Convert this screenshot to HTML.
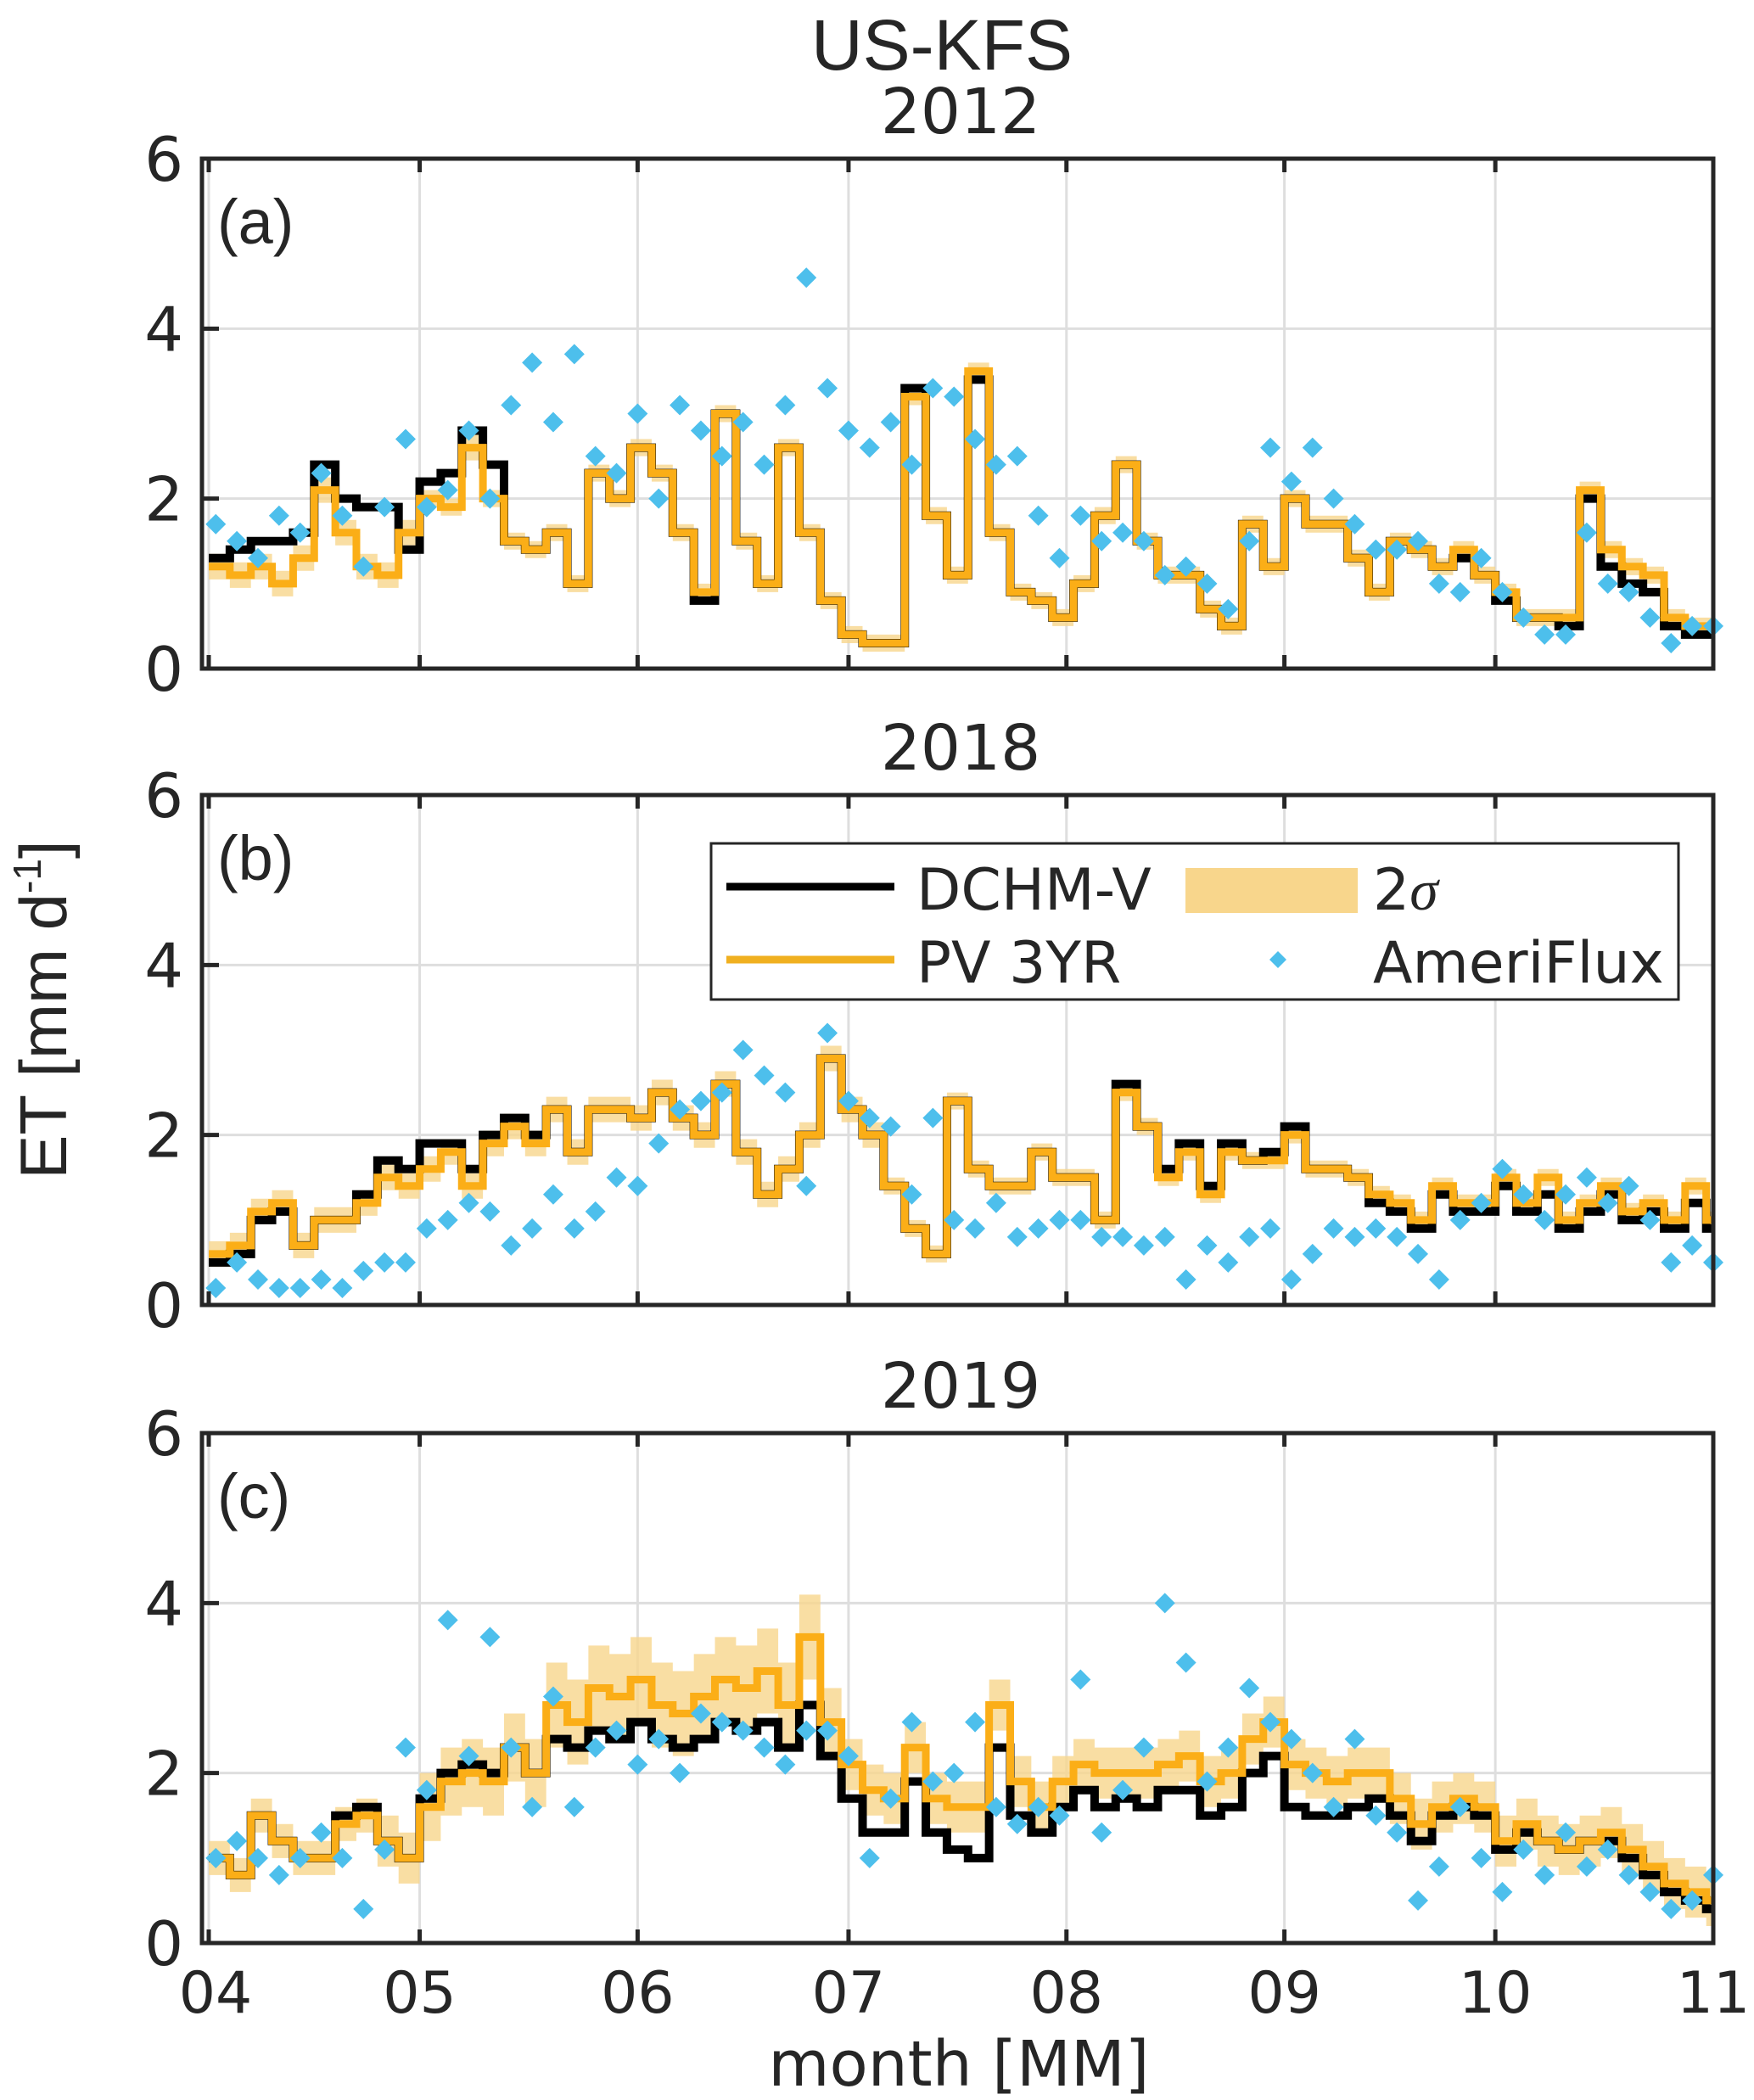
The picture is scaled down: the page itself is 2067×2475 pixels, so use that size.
<!DOCTYPE html>
<html><head><meta charset="utf-8"><style>
html,body{margin:0;padding:0;background:#fff;}
svg{display:block;}
text{font-family:"DejaVu Sans","Liberation Sans",sans-serif;fill:#262626;}
</style></head><body>
<svg id="chart" width="2067" height="2475" viewBox="0 0 2067 2475" xmlns="http://www.w3.org/2000/svg">
<text x="1110" y="82" font-size="84" text-anchor="middle" style="font-family:'Liberation Sans',sans-serif" fill="#000">US-KFS</text>
<text transform="translate(78,1190) rotate(-90)" font-size="78" text-anchor="middle" style="font-family:'Liberation Sans',sans-serif" fill="#000">ET [mm d<tspan font-size="46" dy="-30">-1</tspan><tspan dy="30">]</tspan></text>
<text x="1130" y="2458" font-size="74" text-anchor="middle">month [MM]</text>
<g id="panels"></g>
</svg>
<script>
// ---- data (3-day grid, days since Apr 1) ----
const monthLabels = ["04","05","06","07","08","09","10","11"];
const monthDays = [0,30,61,91,122,153,183,214];
const yTicks = [0,2,4,6];
const panelTitles = ["2012","2018","2019"];
const panelTags = ["(a)","(b)","(c)"];

const pvA = [1.2,1.1,1.2,1.0,1.3,2.1,1.6,1.2,1.1,1.6,2.0,1.9,2.6,2.0,1.5,1.4,1.6,1.0,2.3,2.0,2.6,2.3,1.6,0.9,3.0,1.5,1.0,2.6,1.6,0.8,0.4,0.3,0.3,3.2,1.8,1.1,3.5,1.6,0.9,0.8,0.6,1.0,1.8,2.4,1.5,1.1,1.1,0.7,0.5,1.7,1.2,2.0,1.7,1.7,1.3,0.9,1.5,1.4,1.2,1.4,1.1,0.9,0.6,0.6,0.6,2.1,1.4,1.2,1.1,0.6,0.5,0.5];
const dchmA = [1.3,1.4,1.5,1.5,1.6,2.4,2.0,1.9,1.9,1.4,2.2,2.3,2.8,2.4,1.5,1.4,1.6,1.0,2.3,2.0,2.6,2.3,1.6,0.8,3.0,1.5,1.0,2.6,1.6,0.8,0.4,0.3,0.3,3.3,1.8,1.1,3.4,1.6,0.9,0.8,0.6,1.0,1.8,2.4,1.5,1.1,1.1,0.7,0.5,1.7,1.2,2.0,1.7,1.7,1.3,0.9,1.5,1.4,1.2,1.3,1.1,0.8,0.6,0.6,0.5,2.0,1.2,1.0,0.9,0.5,0.4,0.4];
const sigA = [0.15,0.15,0.15,0.15,0.15,0.15,0.15,0.15,0.15,0.15,0.1,0.1,0.15,0.1,0.1,0.1,0.1,0.1,0.1,0.1,0.1,0.1,0.1,0.1,0.1,0.1,0.1,0.1,0.1,0.1,0.1,0.1,0.1,0.1,0.1,0.1,0.1,0.1,0.1,0.1,0.1,0.1,0.1,0.1,0.1,0.1,0.1,0.1,0.1,0.1,0.1,0.1,0.1,0.1,0.1,0.1,0.1,0.1,0.1,0.1,0.1,0.1,0.1,0.1,0.1,0.1,0.1,0.1,0.1,0.1,0.1,0.1];
const fluxA = [1.7,1.5,1.3,1.8,1.6,2.3,1.8,1.2,1.9,2.7,1.9,2.1,2.8,2.0,3.1,3.6,2.9,3.7,2.5,2.3,3.0,2.0,3.1,2.8,2.5,2.9,2.4,3.1,4.6,3.3,2.8,2.6,2.9,2.4,3.3,3.2,2.7,2.4,2.5,1.8,1.3,1.8,1.5,1.6,1.5,1.1,1.2,1.0,0.7,1.5,2.6,2.2,2.6,2.0,1.7,1.4,1.4,1.5,1.0,0.9,1.3,0.9,0.6,0.4,0.4,1.6,1.0,0.9,0.6,0.3,0.5,0.5];

const pvB = [0.6,0.7,1.1,1.2,0.7,1.0,1.0,1.2,1.5,1.4,1.6,1.8,1.4,1.9,2.1,1.9,2.3,1.8,2.3,2.3,2.2,2.5,2.2,2.0,2.6,1.8,1.3,1.6,2.0,2.9,2.3,2.0,1.4,0.9,0.6,2.4,1.6,1.4,1.4,1.8,1.5,1.5,1.0,2.5,2.1,1.5,1.8,1.3,1.8,1.7,1.7,2.0,1.6,1.6,1.5,1.3,1.2,1.0,1.4,1.2,1.2,1.5,1.2,1.5,1.0,1.2,1.4,1.1,1.2,1.0,1.4,1.0];
const dchmB = [0.5,0.6,1.0,1.1,0.7,1.0,1.0,1.3,1.7,1.6,1.9,1.9,1.6,2.0,2.2,2.0,2.3,1.8,2.3,2.3,2.2,2.5,2.2,2.0,2.6,1.8,1.3,1.6,2.0,2.9,2.3,2.0,1.4,0.9,0.6,2.4,1.6,1.4,1.4,1.8,1.5,1.5,1.0,2.6,2.1,1.6,1.9,1.4,1.9,1.7,1.8,2.1,1.6,1.6,1.5,1.2,1.1,0.9,1.3,1.1,1.1,1.4,1.1,1.3,0.9,1.1,1.3,1.0,1.1,0.9,1.2,0.9];
const sigB = [0.15,0.15,0.15,0.15,0.15,0.15,0.15,0.15,0.15,0.15,0.15,0.15,0.15,0.15,0.15,0.15,0.15,0.15,0.15,0.15,0.15,0.15,0.15,0.15,0.15,0.15,0.15,0.15,0.15,0.15,0.15,0.15,0.1,0.1,0.1,0.1,0.1,0.1,0.1,0.1,0.1,0.1,0.1,0.1,0.1,0.1,0.1,0.1,0.1,0.1,0.1,0.1,0.1,0.1,0.1,0.1,0.1,0.1,0.1,0.1,0.1,0.1,0.1,0.1,0.1,0.1,0.1,0.1,0.1,0.1,0.1,0.1];
const fluxB = [0.2,0.5,0.3,0.2,0.2,0.3,0.2,0.4,0.5,0.5,0.9,1.0,1.2,1.1,0.7,0.9,1.3,0.9,1.1,1.5,1.4,1.9,2.3,2.4,2.5,3.0,2.7,2.5,1.4,3.2,2.4,2.2,2.1,1.3,2.2,1.0,0.9,1.2,0.8,0.9,1.0,1.0,0.8,0.8,0.7,0.8,0.3,0.7,0.5,0.8,0.9,0.3,0.6,0.9,0.8,0.9,0.8,0.6,0.3,1.0,1.2,1.6,1.3,1.0,1.3,1.5,1.2,1.4,1.0,0.5,0.7,0.5];

const pvC = [1.0,0.8,1.5,1.2,1.0,1.0,1.4,1.5,1.2,1.0,1.6,1.9,2.0,1.9,2.3,2.0,2.8,2.6,3.0,2.9,3.1,2.8,2.7,2.9,3.1,3.0,3.2,2.8,3.6,2.6,2.1,1.8,1.7,2.3,1.7,1.6,1.6,2.8,1.9,1.6,1.9,2.1,2.0,2.0,2.0,2.1,2.2,1.9,2.0,2.4,2.6,2.1,2.0,1.9,2.0,2.0,1.7,1.4,1.6,1.7,1.6,1.2,1.4,1.2,1.1,1.2,1.3,1.1,0.9,0.7,0.6,0.5];
const dchmC = [1.0,0.8,1.5,1.2,1.0,1.0,1.5,1.6,1.2,1.0,1.7,2.0,2.1,2.0,2.3,2.0,2.4,2.3,2.5,2.4,2.6,2.4,2.3,2.4,2.6,2.5,2.6,2.3,2.8,2.2,1.7,1.3,1.3,1.9,1.3,1.1,1.0,2.3,1.5,1.3,1.6,1.8,1.6,1.7,1.6,1.8,1.8,1.5,1.6,2.0,2.2,1.6,1.5,1.5,1.6,1.7,1.5,1.2,1.5,1.6,1.5,1.1,1.3,1.2,1.1,1.2,1.2,1.0,0.8,0.6,0.5,0.4];
const sigC = [0.2,0.2,0.2,0.2,0.2,0.2,0.2,0.2,0.3,0.3,0.4,0.4,0.4,0.4,0.4,0.4,0.5,0.5,0.5,0.5,0.5,0.5,0.5,0.5,0.5,0.5,0.5,0.5,0.5,0.4,0.3,0.3,0.3,0.3,0.3,0.3,0.3,0.3,0.3,0.3,0.3,0.3,0.3,0.3,0.3,0.3,0.3,0.3,0.3,0.3,0.3,0.3,0.3,0.3,0.3,0.3,0.3,0.3,0.3,0.3,0.3,0.3,0.3,0.3,0.3,0.3,0.3,0.3,0.3,0.3,0.3,0.3];
const fluxC = [1.0,1.2,1.0,0.8,1.0,1.3,1.0,0.4,1.1,2.3,1.8,3.8,2.2,3.6,2.3,1.6,2.9,1.6,2.3,2.5,2.1,2.4,2.0,2.7,2.6,2.5,2.3,2.1,2.5,2.5,2.2,1.0,1.7,2.6,1.9,2.0,2.6,1.6,1.4,1.6,1.5,3.1,1.3,1.8,2.3,4.0,3.3,1.9,2.3,3.0,2.6,2.4,2.0,1.6,2.4,1.5,1.3,0.5,0.9,1.6,1.0,0.6,1.1,0.8,1.3,0.9,1.1,0.8,0.6,0.4,0.5,0.8];

const STEP = 3;
// ---- layout ----
const L = 238, R = 2019;
const panelTops = [187, 937, 1689], PH = 601;
const NS = "http://www.w3.org/2000/svg";
const svg = document.getElementById("panels");
function xS(d){ return 246 + 8.285*d; }
function mk(tag, attrs, parent){
  const e = document.createElementNS(NS, tag);
  for (const k in attrs) e.setAttribute(k, attrs[k]);
  (parent||svg).appendChild(e); return e;
}
function diamondPath(cx, cy, r){
  return `M${cx-r},${cy}L${cx},${cy-r}L${cx+r},${cy}L${cx},${cy+r}Z`;
}
const series = [
  {pv:pvA, dc:dchmA, sg:sigA, fx:fluxA},
  {pv:pvB, dc:dchmB, sg:sigB, fx:fluxB},
  {pv:pvC, dc:dchmC, sg:sigC, fx:fluxC}
];
function stepPath(vals, yS){
  let p = "";
  vals.forEach((v,i)=>{
    const x0 = Math.max(L, xS(i*STEP)), x1 = Math.min(R, xS((i+1)*STEP));
    const y = yS(v);
    p += (i===0 ? "M"+x0+","+y : "L"+x0+","+y) + "L"+x1+","+y;
  });
  return p;
}
series.forEach((s, pi)=>{
  const top = panelTops[pi], bot = top + PH;
  const yS = v => bot - v*(PH/6);
  const g = mk("g", {});
  
  
  monthDays.forEach(d=>{
    const gl = mk("line",{x1:xS(d),x2:xS(d),y1:top,y2:bot,stroke:"#dedede","stroke-width":3},g);
    
    
  });
  yTicks.forEach(v=>{
    const gl = mk("line",{x1:L,x2:R,y1:yS(v),y2:yS(v),stroke:"#dedede","stroke-width":3},g);
    
    
  });
  const up = s.pv.map((v,i)=>v+s.sg[i]), lo = s.pv.map((v,i)=>Math.max(0,v-s.sg[i]));
  let bp = stepPath(up, yS);
  let lp = "";
  for (let i=lo.length-1;i>=0;i--){
    const x0 = Math.max(L, xS(i*STEP)), x1 = Math.min(R, xS((i+1)*STEP));
    lp += "L"+x1+","+yS(lo[i])+"L"+x0+","+yS(lo[i]);
  }
  const band = mk("path",{d:bp+lp+"Z",fill:"#f8d68c",opacity:0.8},g);
  
  
  const dl = mk("path",{d:stepPath(s.dc,yS),fill:"none",stroke:"#000","stroke-width":10,"stroke-linejoin":"miter"},g);
  
  
  const pl = mk("path",{d:stepPath(s.pv,yS),fill:"none",stroke:"#fbae17","stroke-width":9,"stroke-linejoin":"miter"},g);
  
  
  s.fx.forEach((v,i)=>{
    const pt = mk("path",{d:diamondPath(xS(i*STEP+1), yS(v), 12),fill:"#4dbfec"},g);
    
    
  });
  const box = mk("rect",{x:L,y:top,width:R-L,height:PH,fill:"none",stroke:"#262626","stroke-width":5},g);
  
  
  monthDays.forEach(d=>{
    const t1 = mk("line",{x1:xS(d),x2:xS(d),y1:bot,y2:bot-16,stroke:"#262626","stroke-width":5},g);
    
    
    const t2 = mk("line",{x1:xS(d),x2:xS(d),y1:top,y2:top+16,stroke:"#262626","stroke-width":5},g);
    
    
  });
  yTicks.forEach(v=>{
    const t = mk("line",{x1:L,x2:L+20,y1:yS(v),y2:yS(v),stroke:"#262626","stroke-width":5},g);
    
    
    const tl = mk("text",{x:216,y:yS(v)+26,"font-size":72,"text-anchor":"end"},g);
    tl.textContent = v;
    
    
  });
  const tt = mk("text",{x:1132,y:top-30,"font-size":74,"text-anchor":"middle"},g);
  tt.textContent = panelTitles[pi];
  
  
  const tg = mk("text",{x:256,y:top+100,"font-size":74,fill:"#111"},g);
  tg.style.fontFamily = "'Liberation Sans',sans-serif";
  tg.textContent = panelTags[pi];
  
  
  if (pi===2){
    monthDays.forEach((d,i)=>{
      const ml = mk("text",{x:xS(d)+(i===0?8:0),y:2372,"font-size":68,"text-anchor":"middle"},g);
      ml.textContent = monthLabels[i];
      
      
    });
  }
});
// legend
const lg = mk("g",{});


mk("rect",{x:838,y:994,width:1140,height:184,fill:"#fff",stroke:"#262626","stroke-width":3},lg);
mk("line",{x1:856,x2:1054,y1:1045,y2:1045,stroke:"#000","stroke-width":9},lg);
mk("line",{x1:856,x2:1054,y1:1131,y2:1131,stroke:"#f0b020","stroke-width":9},lg);
mk("rect",{x:1397,y:1023,width:203,height:53,fill:"#f8d68c"},lg);
mk("path",{d:diamondPath(1506,1131,10),fill:"#4dbfec"},lg);
const lt = [["DCHM-V",1080,1072],["PV 3YR",1080,1158],["AmeriFlux",1618,1158]];
lt.forEach(a=>{
  const t = mk("text",{x:a[1],y:a[2],"font-size":68,fill:"#000"},lg);
  t.textContent = a[0];
  
  
});
const sg = mk("text",{x:1618,y:1072,"font-size":68,fill:"#000"},lg);
sg.innerHTML = '2<tspan font-style="italic" style="font-family:\'Liberation Serif\',serif">σ</tspan>';


</script>
</body></html>
